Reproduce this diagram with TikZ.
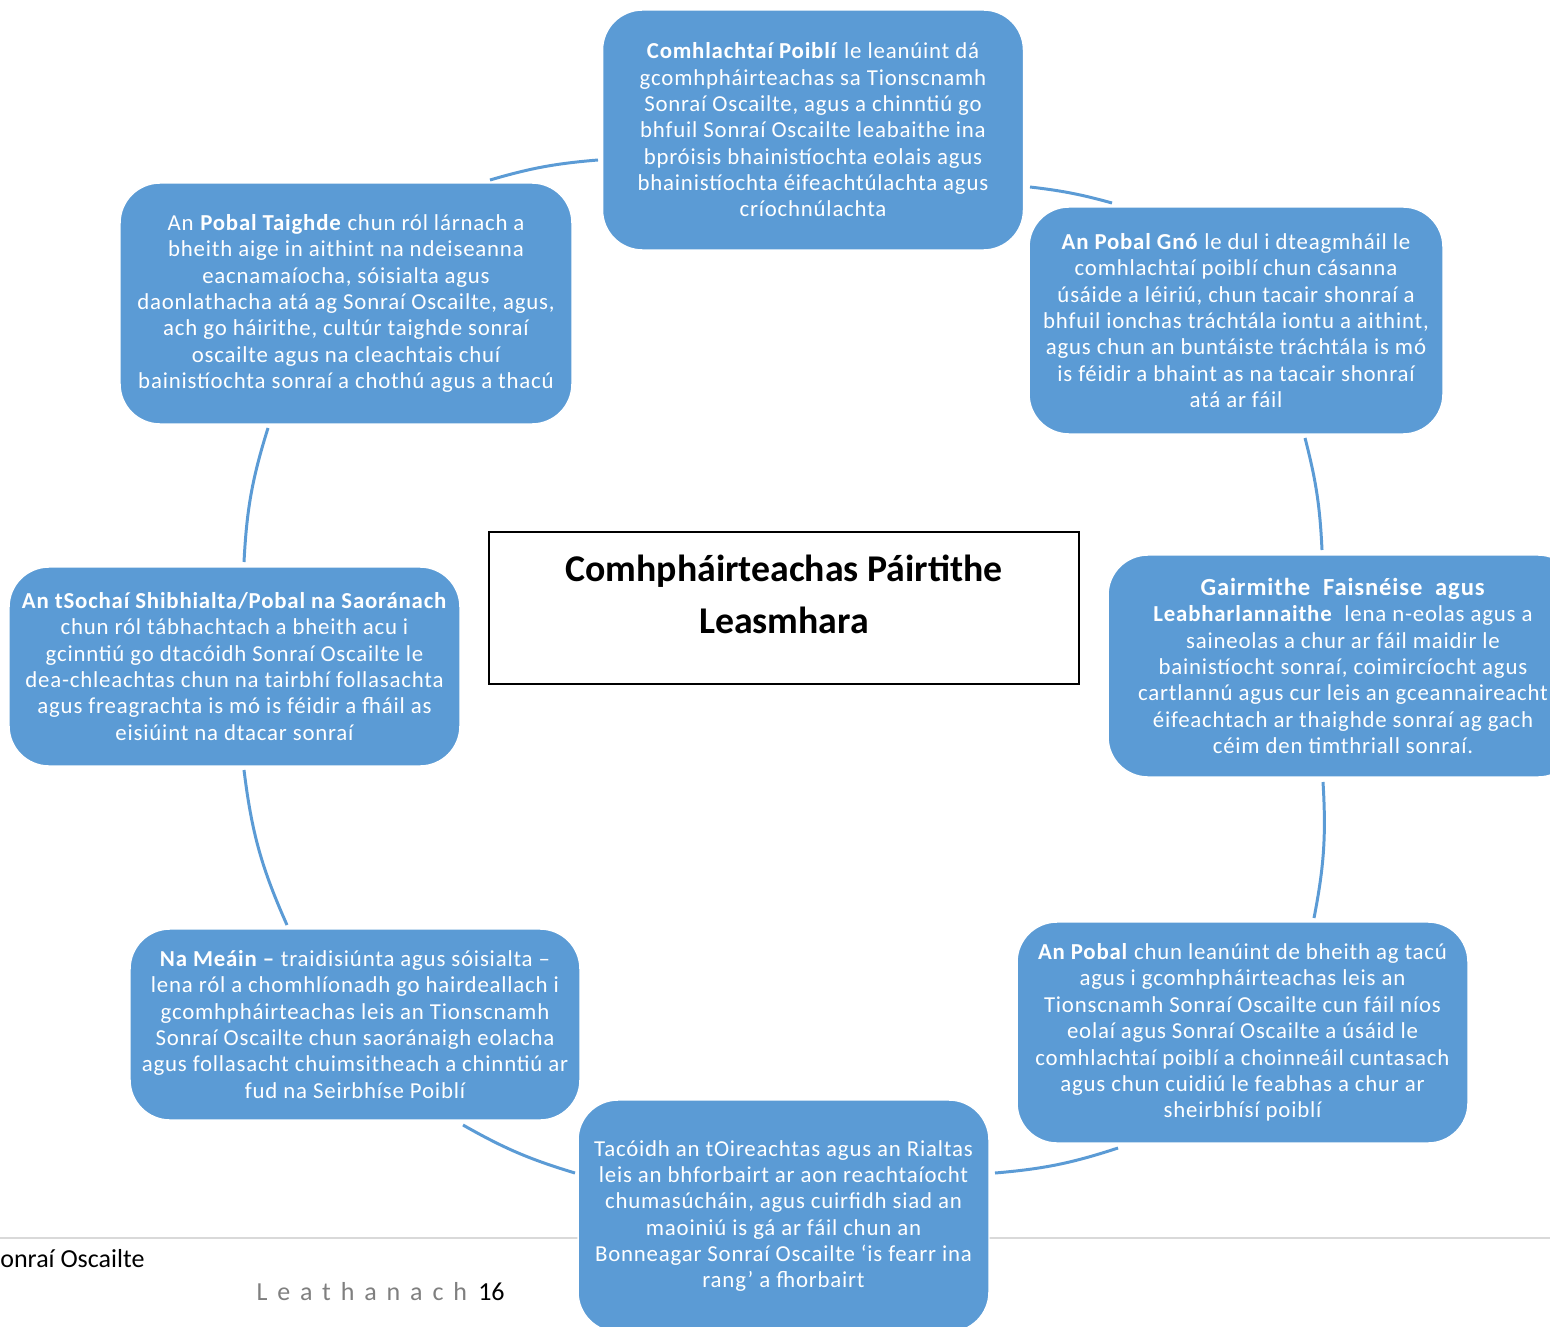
\documentclass[tikz,border=0pt]{standalone}
\usepackage{fontspec}
\setmainfont{Carlito}
\definecolor{boxblue}{RGB}{91,155,213}
\definecolor{footgray}{RGB}{217,217,217}
\definecolor{pagegray}{RGB}{127,127,127}
\begin{document}
\begin{tikzpicture}[x=0.02cm,y=-0.02cm,
  card/.style={draw=white, line width=0.8pt, fill=boxblue, rounded corners=0.8cm,
    text=white, align=center, inner sep=0pt,
    font=\fontsize{13}{15}\selectfont\addfontfeatures{LetterSpace=3.5}},
  conn/.style={draw=boxblue, line width=1.7pt},
  footer/.style={inner sep=0pt, font=\fontsize{14.8}{17}\selectfont},
]
\useasboundingbox (0,0) rectangle (1550,1327);
\clip (0,0) rectangle (1550,1327);

% footer rule
\coordinate (fl) at (0,1238);
\coordinate (fr) at (1550,1238);
\draw[footgray, line width=1pt] (fl) -- (fr);
\node[footer, anchor=base west] (ftxt) at (0,1267) {onraí Oscailte};
\node[footer, anchor=base east] (pg) at (505,1300) {{\color{pagegray}\addfontfeatures{LetterSpace=38}Leathanach}\hspace{3pt} 16};

% cards
\node[card, minimum width=8.42cm, minimum height=4.8cm] (n1) at (813,130)
 {\textbf{Comhlachtaí Poiblí} le leanúint dá\\gcomhpháirteachas sa Tionscnamh\\Sonraí Oscailte, agus a chinntiú go\\bhfuil Sonraí Oscailte leabaithe ina\\bpróisis bhainistíochta eolais agus\\bhainistíochta éifeachtúlachta agus\\críochnúlachta};
\node[card, minimum width=9.04cm, minimum height=4.82cm] (n2) at (346,303.5)
 {An \textbf{Pobal Taighde} chun ról lárnach a\\bheith aige in aithint na ndeiseanna\\eacnamaíocha, sóisialta agus\\daonlathacha atá ag Sonraí Oscailte, agus,\\ach go háirithe, cultúr taighde sonraí\\oscailte agus na cleachtais chuí\\bainistíochta sonraí a chothú agus a thacú};
\node[card, minimum width=8.28cm, minimum height=4.54cm] (n3) at (1236,320.5)
 {\textbf{An Pobal Gnó} le dul i dteagmháil le\\comhlachtaí poiblí chun cásanna\\úsáide a léiriú, chun tacair shonraí a\\bhfuil ionchas tráchtála iontu a aithint,\\agus chun an buntáiste tráchtála is mó\\is féidir a bhaint as na tacair shonraí\\atá ar fáil};
\node[card, minimum width=9.4cm, minimum height=4.44cm] (n4) at (1343,666)
 {{\fontsize{14}{15}\selectfont\textbf{Gairmithe\ \ Faisnéise\ \ agus}}\\\textbf{Leabharlannaithe}\ \ lena n-eolas agus a\\saineolas a chur ar fáil maidir le\\bainistíocht sonraí, coimircíocht agus\\cartlannú agus cur leis an gceannaireacht\\éifeachtach ar thaighde sonraí ag gach\\céim den timthriall sonraí.};
\node[card, minimum width=9.02cm, minimum height=3.98cm] (n5) at (234.5,666.5)
 {\textbf{An tSochaí Shibhialta/Pobal na Saoránach}\\chun ról tábhachtach a bheith acu i\\gcinntiú go dtacóidh Sonraí Oscailte le\\dea-chleachtas chun na tairbhí follasachta\\agus freagrachta is mó is féidir a fháil as\\eisiúint na dtacar sonraí};
\node[card, minimum width=9.0cm, minimum height=3.82cm] (n6) at (355,1024.5)
 {\textbf{Na Meáin –} traidisiúnta agus sóisialta –\\lena ról a chomhlíonadh go hairdeallach i\\gcomhpháirteachas leis an Tionscnamh\\Sonraí Oscailte chun saoránaigh eolacha\\agus follasacht chuimsitheach a chinntiú ar\\fud na Seirbhíse Poiblí};
\node[card, minimum width=9.02cm, minimum height=4.42cm] (n7) at (1242.5,1032.5)
 {\textbf{An Pobal} chun leanúint de bheith ag tacú\\agus i gcomhpháirteachas leis an\\Tionscnamh Sonraí Oscailte cun fáil níos\\eolaí agus Sonraí Oscailte a úsáid le\\comhlachtaí poiblí a choinneáil cuntasach\\agus chun cuidiú le feabhas a chur ar\\sheirbhísí poiblí};
\node[card, minimum width=8.22cm, minimum height=4.64cm] (n8) at (783.5,1216)
 {Tacóidh an tOireachtas agus an Rialtas\\leis an bhforbairt ar aon reachtaíocht\\chumasúcháin, agus cuirfidh siad an\\maoiniú is gá ar fáil chun an\\Bonneagar Sonraí Oscailte ‘is fearr ina\\rang’ a fhorbairt};

% centre title
\node[draw=black, line width=1.1pt, fill=white, minimum width=11.8cm, minimum height=3.04cm] (ctr) at (784,608) {};
\node[font=\bfseries\fontsize{21.5}{29.5}\selectfont, align=center, inner sep=0pt] (title) at (784,594) {Comhpháirteachas Páirtithe\\Leasmhara};

% cycle arcs (clockwise)
\draw[conn] ([shift={(144,-123.5)}]n2.center) to[bend left=5.75] ([shift={(-215,30)}]n1.center);
\draw[conn] ([shift={(217,57)}]n1.center) to[bend left=4.4] ([shift={(-124,-117.5)}]n3.center);
\draw[conn] ([shift={(69,117.5)}]n3.center) to[bend left=5.9] ([shift={(-21,-116)}]n4.center);
\draw[conn] ([shift={(-20,116)}]n4.center) to[bend left=7.2] ([shift={(71.5,-114.5)}]n7.center);
\draw[conn] ([shift={(-124.5,115.5)}]n7.center) to[bend left=6.6] ([shift={(211.5,-43)}]n8.center);
\draw[conn] ([shift={(-208.5,-43)}]n8.center) to[bend left=6.4] ([shift={(108,100.5)}]n6.center);
\draw[conn] ([shift={(-68,-99.5)}]n6.center) to[bend left=8.5] ([shift={(9.5,103.5)}]n5.center);
\draw[conn] ([shift={(9.5,-104.5)}]n5.center) to[bend left=7.2] ([shift={(-78,124.5)}]n2.center);
\end{tikzpicture}
\end{document}
